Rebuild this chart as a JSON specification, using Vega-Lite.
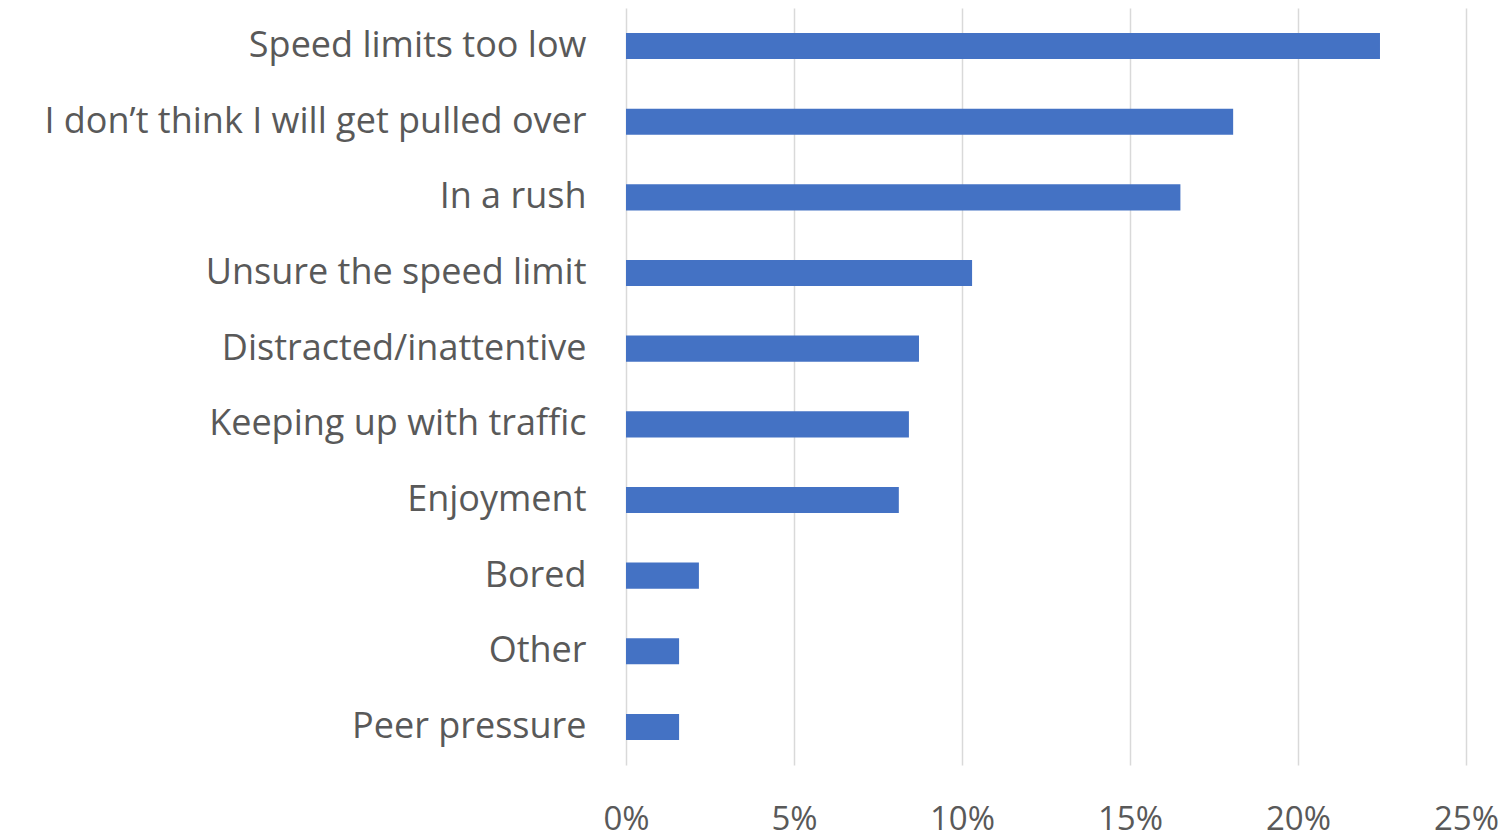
{
  "$schema": "https://vega.github.io/schema/vega-lite/v6.json",
  "width": 840,
  "height": 757,
  "autosize": {"type": "none"},
  "padding": {"left": 626, "top": 8, "right": 43, "bottom": 73},
  "background": "white",
  "config": {"view": {"stroke": null}, "font": "Open Sans"},
  "data": {
    "values": [
      {"reason": "Speed limits too low", "value": 0.2244},
      {"reason": "I don’t think I will get pulled over", "value": 0.1807},
      {"reason": "In a rush", "value": 0.165},
      {"reason": "Unsure the speed limit", "value": 0.103},
      {"reason": "Distracted/inattentive", "value": 0.0872},
      {"reason": "Keeping up with traffic", "value": 0.0842},
      {"reason": "Enjoyment", "value": 0.0812},
      {"reason": "Bored", "value": 0.0217},
      {"reason": "Other", "value": 0.0158},
      {"reason": "Peer pressure", "value": 0.0158}
    ]
  },
  "mark": {"type": "bar", "color": "#4472C4"},
  "encoding": {
    "y": {
      "field": "reason",
      "type": "nominal",
      "sort": null,
      "scale": {"paddingInner": 0.655, "paddingOuter": 0.33},
      "axis": {
        "title": null,
        "domain": false,
        "ticks": false,
        "grid": false,
        "labelFontSize": 36,
        "labelColor": "#595959",
        "labelPadding": 40,
        "labelLimit": 700
      }
    },
    "x": {
      "field": "value",
      "type": "quantitative",
      "scale": {"domain": [0, 0.25], "nice": false},
      "axis": {
        "title": null,
        "format": ".0%",
        "values": [0, 0.05, 0.1, 0.15, 0.2, 0.25],
        "domain": false,
        "ticks": false,
        "grid": true,
        "gridColor": "#D9D9D9",
        "gridWidth": 1.5,
        "labelFontSize": 33,
        "labelColor": "#595959",
        "labelPadding": 38,
        "labelBaseline": "top",
        "labelFlush": false
      }
    }
  }
}
